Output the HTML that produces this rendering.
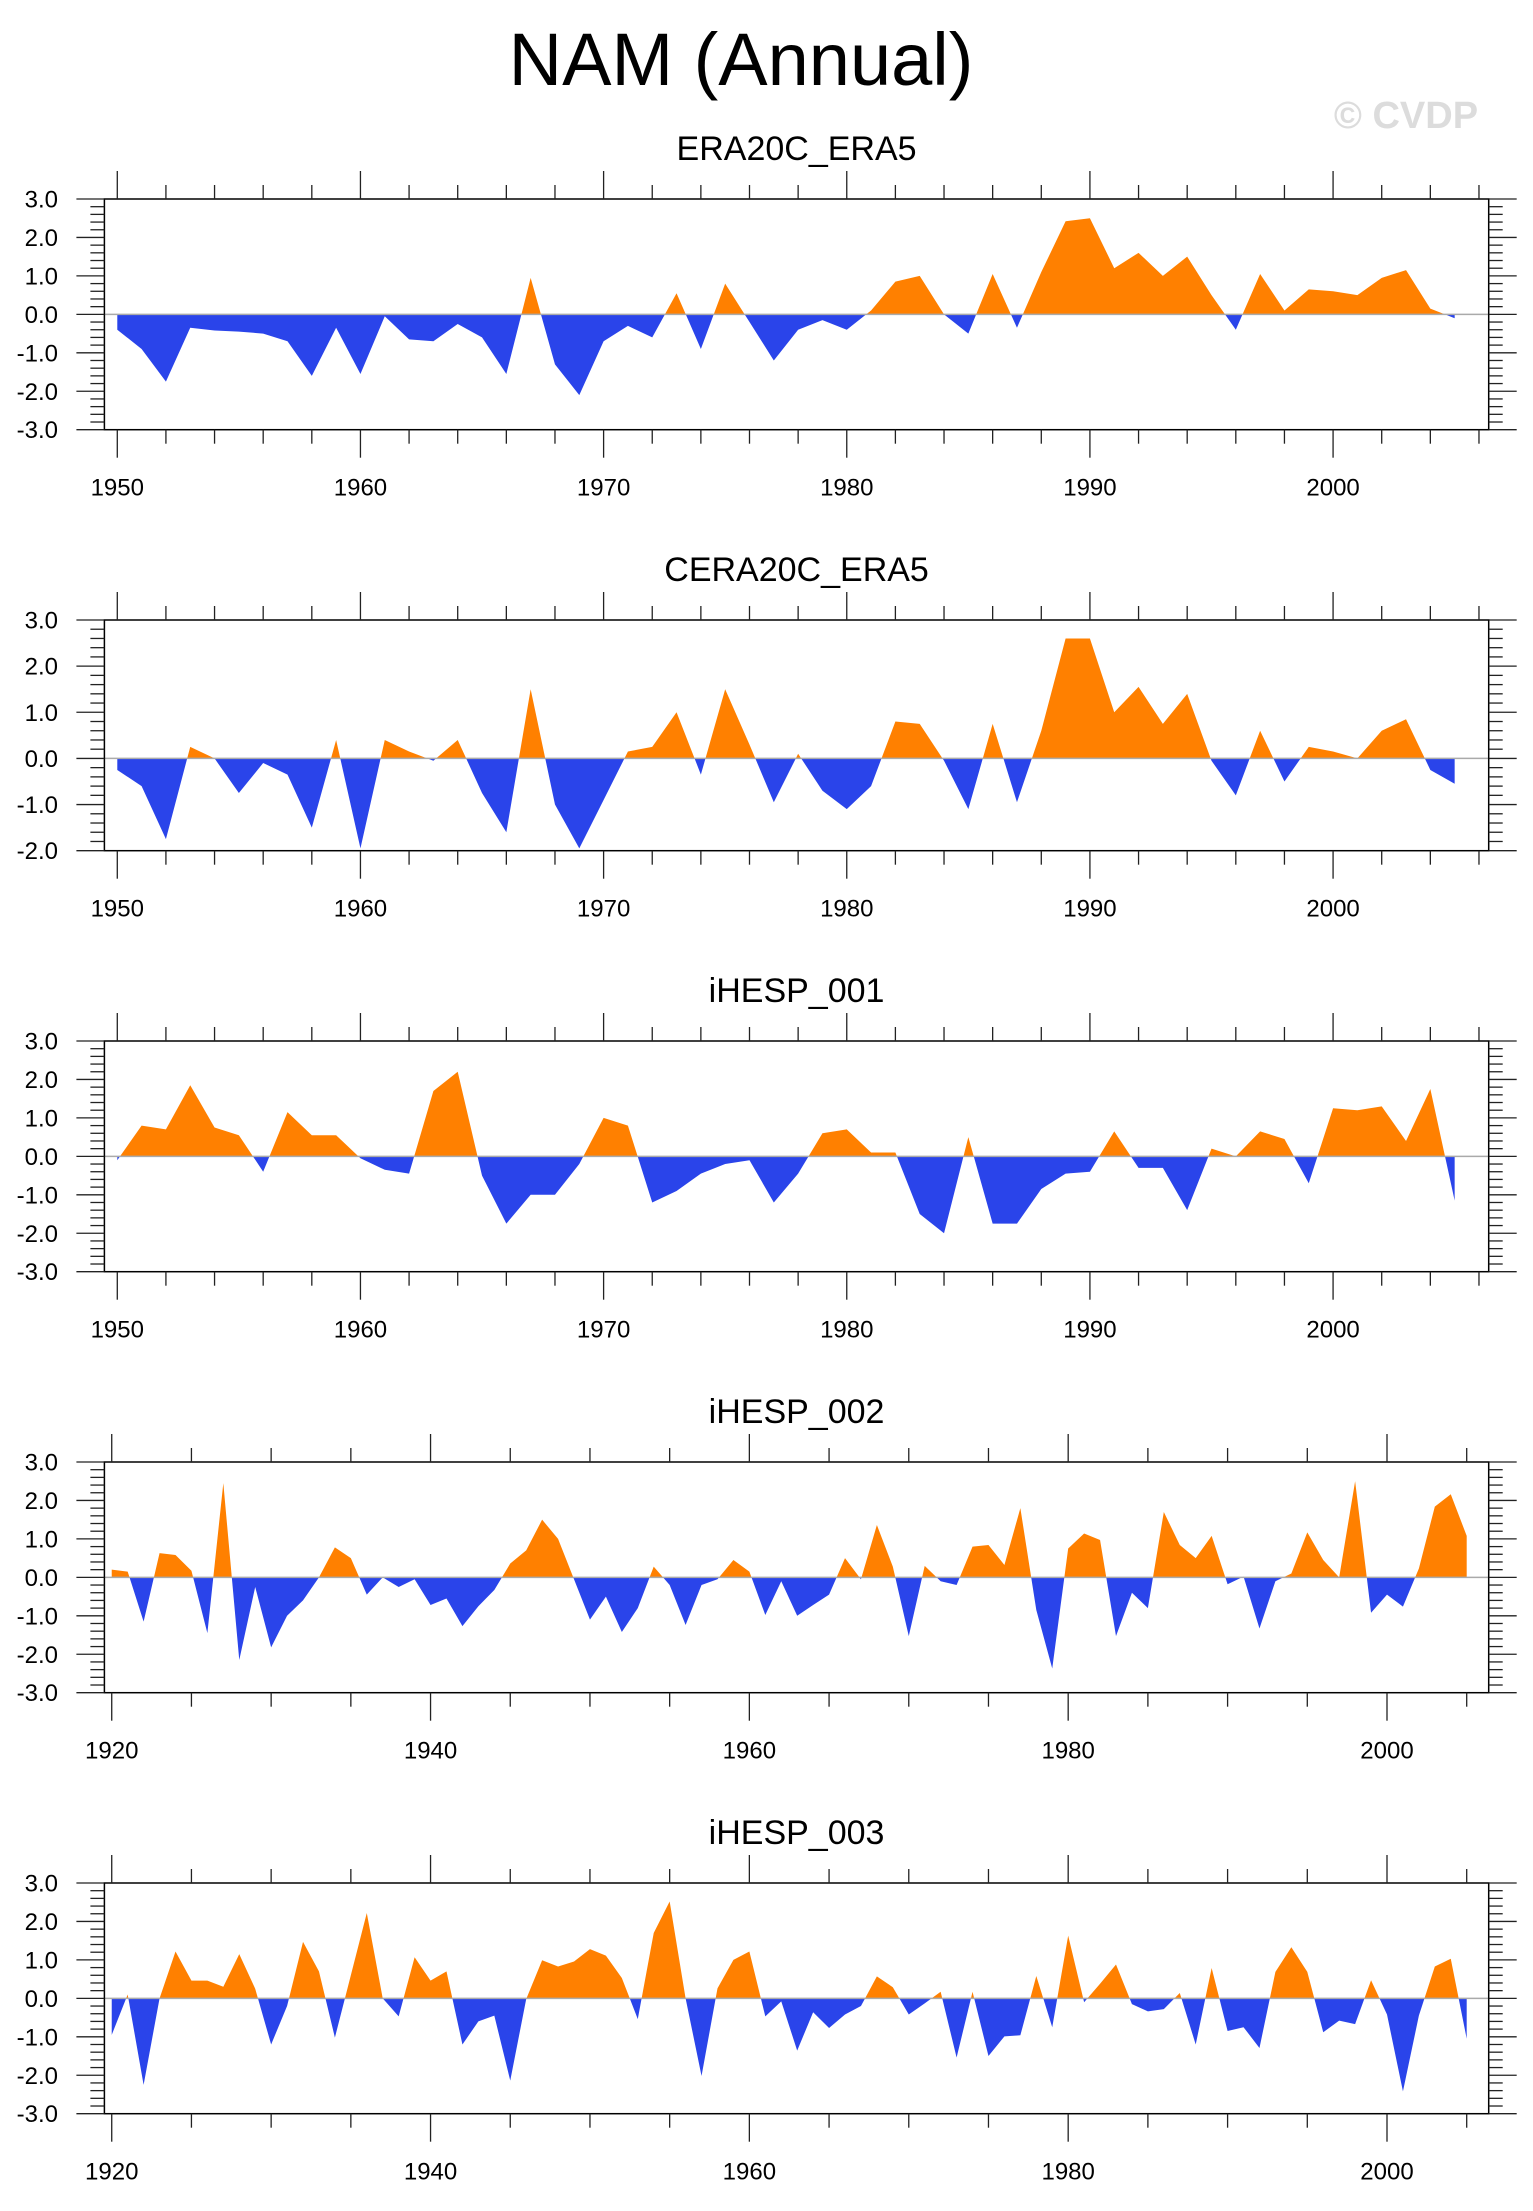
<!DOCTYPE html>
<html><head><meta charset="utf-8"><style>
html,body{margin:0;padding:0;background:#fff;}
svg{display:block;font-family:"Liberation Sans",Arial,sans-serif;}
</style></head><body>
<svg id="chart" width="1533" height="2211" viewBox="0 0 1533 2211" xmlns="http://www.w3.org/2000/svg">
<text x="741" y="85" font-size="74" text-anchor="middle" fill="#000">NAM (Annual)</text>
<text x="1406" y="128" font-size="38" font-weight="bold" text-anchor="middle" fill="#dcdcdc">© CVDP</text>
<g id="panels"></g>
</svg>
<script>
const titles = ["ERA20C_ERA5","CERA20C_ERA5","iHESP_001","iHESP_002","iHESP_003"];
const startYears = [1950,1950,1950,1920,1920];
const era20c = [-0.4,-0.9,-1.75,-0.35,-0.42,-0.45,-0.5,-0.7,-1.6,-0.35,
 -1.55,-0.05,-0.65,-0.7,-0.25,-0.6,-1.55,0.95,-1.3,-2.1,
 -0.7,-0.3,-0.6,0.55,-0.9,0.8,-0.2,-1.2,-0.4,-0.15,
 -0.4,0.1,0.85,1.0,0.0,-0.5,1.05,-0.35,1.1,2.42,
 2.5,1.2,1.6,1.0,1.5,0.5,-0.4,1.05,0.1,0.65,
 0.6,0.5,0.95,1.15,0.15,-0.1];
const cera20c = [-0.25,-0.6,-1.75,0.25,0.0,-0.75,-0.1,-0.35,-1.5,0.4,
 -1.95,0.4,0.15,-0.05,0.4,-0.75,-1.6,1.5,-1.0,-1.95,
 -0.9,0.15,0.25,1.0,-0.35,1.5,0.3,-0.95,0.1,-0.7,
 -1.1,-0.6,0.8,0.75,-0.05,-1.1,0.75,-0.95,0.6,2.6,
 2.6,1.0,1.55,0.75,1.4,-0.05,-0.8,0.6,-0.5,0.25,
 0.15,0.0,0.6,0.85,-0.25,-0.55];
const ihesp001 = [-0.1,0.8,0.7,1.85,0.75,0.55,-0.4,1.15,0.55,0.55,
 -0.05,-0.35,-0.45,1.7,2.2,-0.5,-1.75,-1.0,-1.0,-0.2,
 1.0,0.8,-1.2,-0.9,-0.45,-0.2,-0.1,-1.2,-0.45,0.6,
 0.7,0.1,0.1,-1.5,-2.0,0.5,-1.75,-1.75,-0.85,-0.45,
 -0.4,0.65,-0.3,-0.3,-1.4,0.2,0.0,0.65,0.45,-0.7,
 1.25,1.2,1.3,0.4,1.75,-1.15];
const ihesp002 = [0.2,0.15,-1.15,0.63,0.58,0.17,-1.45,2.45,-2.15,-0.25,
 -1.82,-1.0,-0.6,0.0,0.78,0.5,-0.45,0.0,-0.25,-0.05,
 -0.72,-0.55,-1.27,-0.75,-0.33,0.36,0.7,1.5,1.0,-0.05,
 -1.1,-0.5,-1.42,-0.8,0.28,-0.2,-1.24,-0.2,-0.05,0.45,
 0.15,-0.98,-0.1,-1.0,-0.72,-0.45,0.5,-0.05,1.36,0.28,
 -1.53,0.3,-0.1,-0.2,0.8,0.84,0.32,1.8,-0.85,-2.37,
 0.75,1.14,0.97,-1.53,-0.4,-0.8,1.7,0.84,0.5,1.08,
 -0.18,0.02,-1.33,-0.1,0.1,1.17,0.45,0.0,2.5,-0.92,
 -0.45,-0.76,0.23,1.84,2.16,1.08];
const ihesp003 = [-0.95,0.1,-2.25,0.0,1.22,0.46,0.46,0.3,1.15,0.25,
 -1.2,-0.2,1.47,0.7,-1.02,0.6,2.22,0.0,-0.47,1.07,
 0.46,0.7,-1.2,-0.6,-0.45,-2.14,-0.02,0.99,0.83,0.96,
 1.28,1.11,0.53,-0.54,1.7,2.52,0.0,-2.02,0.26,1.0,
 1.22,-0.47,-0.08,-1.36,-0.36,-0.77,-0.42,-0.2,0.57,0.29,
 -0.42,-0.13,0.17,-1.54,0.17,-1.5,-0.99,-0.96,0.58,-0.75,
 1.63,-0.1,0.38,0.88,-0.15,-0.34,-0.28,0.14,-1.2,0.79,
 -0.85,-0.75,-1.29,0.69,1.33,0.69,-0.88,-0.58,-0.67,0.47,
 -0.42,-2.42,-0.45,0.83,1.03,-1.05];
const seriesList = [era20c,cera20c,ihesp001,ihesp002,ihesp003];
const yMins = [-3,-2,-3,-3,-3];
const yMax = 3;
const xMins = [1949.47,1949.47,1949.47,1919.54,1919.54];
const xMaxs = [2006.4,2006.4,2006.4,2006.38,2006.38];
const majorStep = [10,10,10,20,20];
const minorStep = [2,2,2,5,5];

const NS = "http://www.w3.org/2000/svg";
const root = document.getElementById("panels");
function mk(tag, attrs, parent){
  const e = document.createElementNS(NS, tag);
  for (const k in attrs) e.setAttribute(k, attrs[k]);
  parent.appendChild(e);
  return e;
}
const L = 104.4, R = 1488.7, H = 230.7;
for (let p = 0; p < 5; p++) {
  const top = 199 + 421 * p, bot = top + H;
  const x = v => L + (v - xMins[p]) / (xMaxs[p] - xMins[p]) * (R - L);
  const y = v => bot - (v - yMins[p]) / (yMax - yMins[p]) * H;
  const g = mk("g", {}, root);
  
  
  const t = mk("text", {x:(L+R)/2, y:top-39, "font-size":34, "text-anchor":"middle", fill:"#000"}, g);
  t.textContent = titles[p];
  
  
  // area
  const data = seriesList[p], y0 = y(0);
  let d = "M" + x(startYears[p]) + "," + y0;
  data.forEach((v,i) => { d += " L" + x(startYears[p]+i).toFixed(2) + "," + y(v).toFixed(2); });
  d += " L" + x(startYears[p]+data.length-1) + "," + y0 + " Z";
  const cid = "c" + p;
  const defs = mk("defs", {}, g);
  const c1 = mk("clipPath", {id: cid+"a"}, defs); mk("rect", {x:L, y:top, width:R-L, height:y0-top}, c1);
  const c2 = mk("clipPath", {id: cid+"b"}, defs); mk("rect", {x:L, y:y0, width:R-L, height:bot-y0}, c2);
  const pos = mk("path", {d:d, fill:"#ff8000", "clip-path":"url(#"+cid+"a)"}, g);
  
  
  const neg = mk("path", {d:d, fill:"#2a44ea", "clip-path":"url(#"+cid+"b)"}, g);
  
  
  mk("line", {x1:L, x2:R, y1:y0, y2:y0, stroke:"#aaa", "stroke-width":1.5}, g);
  // box
  const box = mk("rect", {x:L, y:top, width:R-L, height:H, fill:"none", stroke:"#000", "stroke-width":1.5}, g);
  
  
  // x ticks
  const x0 = Math.ceil(xMins[p]);
  for (let yr = x0; yr <= xMaxs[p]; yr++) {
    if (yr % minorStep[p] !== 0) continue;
    const major = yr % majorStep[p] === 0;
    const len = major ? 28 : 14, xx = x(yr);
    mk("line", {x1:xx, x2:xx, y1:top, y2:top-len, stroke:"#222", "stroke-width":1.3}, g);
    mk("line", {x1:xx, x2:xx, y1:bot, y2:bot+len, stroke:"#222", "stroke-width":1.3}, g);
    if (major) {
      const lb = mk("text", {x:xx, y:bot+66, "font-size":24, "text-anchor":"middle", fill:"#000"}, g);
      lb.textContent = yr;
      
      
    }
  }
  // y ticks
  for (let k = Math.round(yMins[p]*5); k <= yMax*5; k++) {
    const v = k/5, yy = y(v), major = k % 5 === 0;
    const len = major ? 28 : 14;
    mk("line", {x1:L, x2:L-len, y1:yy, y2:yy, stroke:"#222", "stroke-width":1.3}, g);
    mk("line", {x1:R, x2:R+len, y1:yy, y2:yy, stroke:"#222", "stroke-width":1.3}, g);
    if (major) {
      const lb = mk("text", {x:58, y:yy+8.5, "font-size":24, "text-anchor":"end", fill:"#000"}, g);
      lb.textContent = v.toFixed(1);
      
      
    }
  }
}
</script>
</body></html>
